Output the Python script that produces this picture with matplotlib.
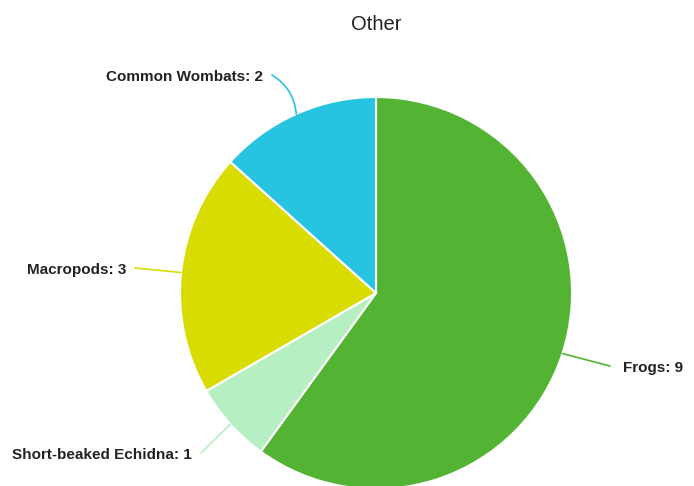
import numpy as np
import matplotlib.pyplot as plt

plt.rcParams['font.family'] = ['Liberation Sans', 'DejaVu Sans']

# slice data, clockwise from 12 o'clock
animals = ["Frogs", "Short-beaked Echidna", "Macropods", "Common Wombats"]
counts = [9, 1, 3, 2]
colors = ["#52b432", "#b5efc2", "#d9dc00", "#27c4e2"]

# label positions (pixel coords, y up) and alignment
label_xy = [(623, 118), (192, 31), (126, 216), (263, 409)]
label_ha = ["left", "right", "right", "right"]
label_rad = [0.0, 0.0, 0.0, -0.25]

fig = plt.figure(figsize=(6.94, 4.86), dpi=100)
ax = fig.add_axes([0, 0, 1, 1])

cx, cy, r = 376, 193, 196
wedges, _ = ax.pie(counts, colors=colors, startangle=90, counterclock=False,
                   center=(cx, cy), radius=r, frame=True,
                   wedgeprops=dict(edgecolor="white", linewidth=1.5))
ax.set_xlim(0, 694)
ax.set_ylim(0, 486)
ax.set_aspect("equal")
ax.axis("off")

for w, name, n, col, xy, ha, rad in zip(wedges, animals, counts, colors,
                                        label_xy, label_ha, label_rad):
    mid = np.deg2rad((w.theta1 + w.theta2) / 2)
    px = cx + r * np.cos(mid)
    py = cy + r * np.sin(mid)
    tx = xy[0] - 13 if ha == "left" else xy[0] + 9
    ax.annotate("", xy=(px, py), xytext=(tx, xy[1] + 2),
                arrowprops=dict(arrowstyle="-", color=col, lw=1.2,
                                shrinkA=0, shrinkB=0,
                                connectionstyle=f"arc3,rad={rad}"))
    ax.text(xy[0], xy[1], f"{name}: {n}", ha=ha, va="center",
            fontsize=11, fontweight="bold", color="#222222")

ax.text(376, 461, "Other", ha="center", va="center", fontsize=14.5, color="#222222")

fig.savefig("out.png", dpi=100)
